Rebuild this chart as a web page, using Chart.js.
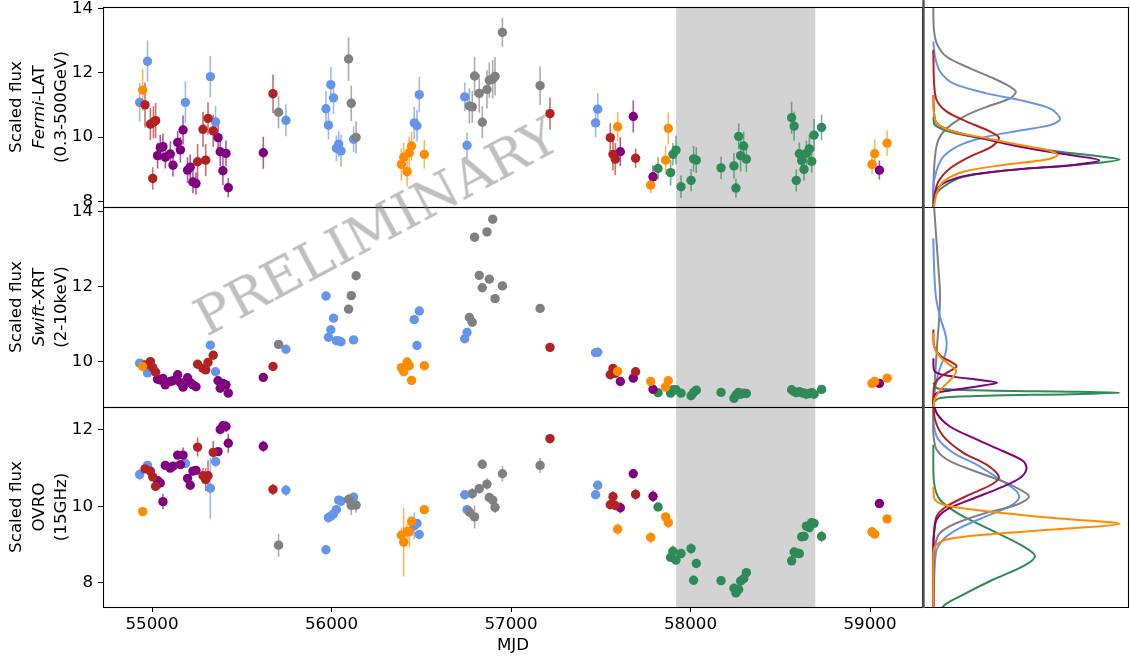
<!DOCTYPE html>
<html><head><meta charset="utf-8">
<script src="https://cdn.jsdelivr.net/npm/chart.js@4.4.0/dist/chart.umd.min.js"></script>
<style>
html,body{margin:0;padding:0;background:#fff;}
#wrap{position:relative;width:1130px;height:661px;overflow:hidden;font-family:"DejaVu Sans",sans-serif;background:#fff;}
canvas{position:absolute;left:0;top:0;}
.ylab{position:absolute;width:240px;text-align:center;font-size:16.7px;line-height:22.5px;transform:translate(-50%,-50%) rotate(-90deg);color:#000;white-space:nowrap;font-family:"DejaVu Sans",sans-serif;}
#wm{position:absolute;left:376px;top:226px;transform:translate(-50%,-50%) rotate(-28deg);font-family:"DejaVu Serif",serif;font-size:53px;color:rgba(128,128,128,0.5);white-space:nowrap;pointer-events:none;}
</style></head>
<body><div id="wrap">
<canvas id="m1" width="1130" height="661"></canvas>
<canvas id="m2" width="1130" height="661"></canvas>
<canvas id="m3" width="1130" height="661"></canvas>
<canvas id="s1" width="1130" height="661"></canvas>
<canvas id="s2" width="1130" height="661"></canvas>
<canvas id="s3" width="1130" height="661"></canvas>
<div class="ylab" style="left:38px;top:107px">Scaled flux<br><i>Fermi</i>-LAT<br>(0.3-500GeV)</div>
<div class="ylab" style="left:38px;top:307px">Scaled flux<br><i>Swift</i>-XRT<br>(2-10keV)</div>
<div class="ylab" style="left:38px;top:507px">Scaled flux<br>OVRO<br>(15GHz)</div>
<div id="wm">PRELIMINARY</div>
</div>
<script>
// ---------------- data ----------------
const xTicks = [55000, 56000, 57000, 58000, 59000];
const fermiTicks = [8, 10, 12, 14];
const swiftTicks = [10, 12, 14];
const ovroTicks = [8, 10, 12];
const bandStart = 57920, bandEnd = 58695;

const blueMJD = [54931, 54975, 55186, 55325, 55354, 55746, 55969, 55983, 55996, 56011, 56027, 56040, 56053, 56123, 56461, 56476, 56489, 56742, 56755, 57471, 57483];
const blueFermi = [11.08, 12.36, 11.08, 11.88, 10.47, 10.52, 10.88, 10.37, 11.63, 11.22, 9.65, 9.78, 9.57, 9.93, 10.44, 10.35, 11.32, 11.25, 9.74, 10.44, 10.87];
const blueFermiErr = [0.6, 0.65, 0.65, 0.65, 0.5, 0.5, 0.55, 0.45, 0.55, 0.5, 0.4, 0.4, 0.5, 0.4, 0.5, 0.5, 0.55, 0.45, 0.4, 0.45, 0.5];
const blueSwift = [9.96, 9.70, 9.46, 10.44, 9.73, 10.33, 11.75, 10.65, 10.85, 11.16, 10.56, 10.55, 10.53, 10.58, 11.12, 10.43, 11.35, 10.61, 10.78, 10.24, 10.25];
const blueOvro = [10.83, 11.07, 11.12, 10.47, 11.17, 10.42, 8.86, 9.70, 9.74, 9.80, 9.91, 10.16, 10.13, 10.24, 9.49, 9.55, 9.26, 10.30, 9.91, 10.30, 10.55];
const blueOvroErr = [0.15, 0.1, 0.1, 0.8, 0.15, 0.15, 0.1, 0.12, 0.1, 0.1, 0.1, 0.12, 0.1, 0.12, 0.35, 0.1, 0.1, 0.12, 0.1, 0.1, 0.12];

const grayMJD = [55705, 56095, 56110, 56137, 56768, 56784, 56797, 56823, 56840, 56866, 56879, 56898, 56911, 56952, 57162];
const grayFermi = [10.77, 12.43, 11.05, 9.99, 10.97, 10.94, 11.90, 11.36, 10.46, 11.48, 11.77, 11.80, 11.89, 13.26, 11.60];
const grayFermiErr = [0.5, 0.68, 0.55, 0.5, 0.55, 0.5, 0.6, 0.6, 0.5, 0.6, 0.55, 0.6, 0.6, 0.45, 0.6];
const graySwift = [10.46, 11.40, 11.76, 12.29, 11.18, 11.05, 13.32, 12.30, 11.97, 13.46, 12.20, 13.80, 11.68, 12.02, 11.42];
const grayOvro = [8.98, 10.18, 10.02, 10.03, 9.85, 10.33, 9.72, 10.46, 11.10, 10.58, 10.23, 10.16, 9.97, 10.85, 11.07];
const grayOvroErr = [0.3, 0.15, 0.25, 0.2, 0.15, 0.15, 0.3, 0.12, 0.12, 0.15, 0.1, 0.15, 0.15, 0.2, 0.2];

const orangeMJD = [54948, 56389, 56402, 56421, 56433, 56446, 56517, 57594, 57778, 57861, 57876, 59011, 59026, 59095];
const orangeFermi = [11.46, 9.15, 9.37, 8.92, 9.51, 9.72, 9.46, 10.32, 8.50, 9.28, 10.27, 9.15, 9.48, 9.81];
const orangeFermiErr = [0.65, 0.5, 0.45, 0.45, 0.5, 0.45, 0.45, 0.45, 0.25, 0.45, 0.5, 0.3, 0.45, 0.4];
const orangeSwift = [9.87, 9.84, 9.73, 9.99, 9.89, 9.50, 9.89, 9.74, 9.47, 9.32, 9.49, 9.42, 9.47, 9.56];
const orangeOvro = [9.86, 9.24, 9.06, 9.34, 9.33, 9.60, 9.91, 9.40, 9.18, 9.72, 9.57, 9.33, 9.27, 9.67];
const orangeOvroErr = [0.05, 0.2, 0.9, 0.2, 0.4, 0.15, 0.1, 0.15, 0.15, 0.1, 0.15, 0.1, 0.1, 0.05];

const redMJD = [54961, 54991, 55004, 55008, 55020, 55254, 55284, 55299, 55312, 55341, 55674, 57217, 57553, 57568, 57581, 57694];
const redFermi = [11.0, 10.40, 8.71, 10.46, 10.51, 9.23, 10.24, 9.28, 10.58, 10.19, 11.35, 10.73, 9.98, 9.46, 9.31, 9.34];
const redFermiErr = [0.7, 0.5, 0.35, 0.5, 0.55, 0.55, 0.55, 0.5, 0.5, 0.5, 0.6, 0.5, 0.45, 0.5, 0.5, 0.3];
const redSwift = [9.91, 10.0, 9.84, null, 9.72, 9.93, 9.82, 9.78, 9.98, 10.17, 9.87, 10.38, 9.65, 9.82, 9.69, 9.73];
const redOvro = [10.98, 10.92, 10.77, null, 10.52, 11.55, 10.80, 10.70, 10.80, 11.41, 10.44, 11.77, 10.04, 10.25, 10.02, 10.31];
const redOvroErr = [0.1, 0.1, 0.1, 0, 0.1, 0.25, 0.2, 0.3, 0.4, 0.3, 0.15, 0.05, 0.1, 0.15, 0.12, 0.15];

const purpleMJD = [55031, 55046, 55061, 55074, 55102, 55117, 55143, 55158, 55173, 55198, 55213, 55228, 55245, 55368, 55380, 55395, 55412, 55425, 55620, 57609, 57681, 57791, 59052];
const purpleFermi = [9.42, 9.67, 9.70, 9.37, 9.47, 9.12, 9.83, 9.60, 10.22, 8.97, 9.06, 8.60, 8.55, 9.98, 9.54, 8.95, 9.49, 8.42, 9.51, 9.54, 10.64, 8.76, 8.97];
const purpleFermiErr = [0.4, 0.4, 0.4, 0.35, 0.4, 0.35, 0.35, 0.4, 0.45, 0.4, 0.4, 0.35, 0.35, 0.45, 0.45, 0.45, 0.4, 0.3, 0.5, 0.45, 0.5, 0.35, 0.3];
const purpleSwift = [9.53, 9.51, 9.55, 9.38, 9.47, 9.49, 9.65, 9.44, 9.32, 9.57, 9.44, 9.38, 9.33, 9.49, 9.29, 9.42, 9.38, 9.16, 9.58, 9.47, 9.56, 9.26, 9.42];
const purpleOvro = [10.67, 10.61, 10.12, 11.07, 11.00, 11.05, 11.34, 11.09, 11.34, 10.73, 10.55, 10.92, 10.94, 11.43, 12.01, 12.11, 12.09, 11.65, 11.57, 9.96, 10.85, 10.26, 10.07];
const purpleOvroErr = [0.1, 0.1, 0.2, 0.1, 0.1, 0.1, 0.1, 0.1, 0.2, 0.1, 0.1, 0.1, 0.1, 0.1, 0.1, 0.1, 0.15, 0.25, 0.15, 0.15, 0.1, 0.15, 0.05];

const greenMJD = [57819, 57889, 57902, 57919, 57947, 58003, 58017, 58032, 58170, 58242, 58253, 58268, 58279, 58296, 58311, 58563, 58577, 58589, 58606, 58619, 58632, 58645, 58662, 58675, 58688, 58730];
const greenFermi = [9.02, 8.89, 9.46, 9.59, 8.45, 8.65, 9.32, 9.28, 9.04, 9.10, 8.41, 10.02, 9.42, 9.72, 9.31, 10.60, 10.34, 8.65, 9.48, 9.27, 8.99, 9.49, 9.63, 9.24, 10.06, 10.30];
const greenFermiErr = [0.35, 0.4, 0.35, 0.45, 0.35, 0.35, 0.4, 0.4, 0.35, 0.4, 0.3, 0.4, 0.5, 0.45, 0.4, 0.5, 0.45, 0.35, 0.35, 0.3, 0.35, 0.4, 0.45, 0.35, 0.5, 0.4];
const greenSwift = [9.17, 9.16, 9.25, 9.25, 9.16, 9.09, 9.18, 9.24, 9.18, 9.02, 9.11, 9.18, 9.13, 9.16, 9.15, 9.25, 9.20, 9.17, 9.20, 9.17, 9.16, 9.13, 9.15, 9.17, 9.13, 9.26];
const greenOvro = [9.98, 8.66, 8.82, 8.59, 8.76, 8.89, 8.06, 8.50, 8.05, 7.85, 7.73, 7.82, 8.04, 8.10, 8.26, 8.57, 8.80, 8.77, 8.76, 9.20, 9.21, 9.48, 9.44, 9.57, 9.55, 9.21];
const greenOvroErr = [0.1, 0.1, 0.15, 0.1, 0.1, 0.15, 0.12, 0.1, 0.05, 0.05, 0.05, 0.08, 0.1, 0.1, 0.1, 0.08, 0.1, 0.1, 0.1, 0.1, 0.1, 0.1, 0.1, 0.1, 0.1, 0.15];

// distribution curves: [density, scaled flux]
const curveFermiGray = [[0,14.3],[0.002,13.44],[0.018,12.92],[0.072,12.50],[0.197,12.14],[0.322,11.83],[0.411,11.57],[0.443,11.41],[0.411,11.20],[0.286,10.94],[0.161,10.63],[0.072,10.27],[0.027,9.91],[0.009,9.39],[0,8.45],[0,7.7]];
const curveFermiBlue = [[0,12.97],[0.009,12.50],[0.036,12.04],[0.107,11.67],[0.286,11.36],[0.465,11.15],[0.626,10.89],[0.680,10.56],[0.626,10.37],[0.465,10.20],[0.286,10.01],[0.143,9.75],[0.054,9.39],[0.018,8.97],[0,8.45],[0,7.7]];
const curveFermiRed = [[0,12.71],[0.004,11.67],[0.018,11.15],[0.072,10.79],[0.179,10.48],[0.286,10.22],[0.352,9.98],[0.313,9.70],[0.197,9.39],[0.089,9.02],[0.027,8.61],[0.004,8.14],[0,7.7]];
const curveFermiOrange = [[0,11.31],[0.004,10.74],[0.018,10.43],[0.107,10.17],[0.286,9.96],[0.465,9.75],[0.608,9.60],[0.667,9.44],[0.608,9.30],[0.376,9.13],[0.161,8.92],[0.054,8.61],[0.018,8.25],[0,7.7]];
const curveFermiPurple = [[0,11.31],[0.004,10.74],[0.018,10.43],[0.107,10.17],[0.286,9.93],[0.393,9.78],[0.554,9.60],[0.733,9.44],[0.891,9.28],[0.733,9.11],[0.465,9.00],[0.197,8.82],[0.072,8.61],[0.018,8.35],[0,7.7]];
const curveFermiGreen = [[0,10.63],[0.009,10.37],[0.107,10.13],[0.286,9.93],[0.465,9.73],[0.68,9.54],[0.876,9.41],[1.0,9.30],[0.876,9.19],[0.644,9.08],[0.376,8.95],[0.161,8.76],[0.054,8.45],[0.009,8.14],[0,7.7]];

const curveSwiftGray = [[0.002,14.3],[0.014,13.42],[0.027,12.53],[0.036,11.82],[0.032,11.2],[0.021,10.49],[0.013,9.87],[0.004,9.16],[0,8.7]];
const curveSwiftBlue = [[0,13.29],[0.004,12.53],[0.014,11.73],[0.036,11.2],[0.063,10.76],[0.072,10.49],[0.063,10.18],[0.039,9.87],[0.018,9.51],[0.004,9.07],[0,8.7]];
const curveSwiftRed = [[0,10.86],[0.005,10.4],[0.04,10.15],[0.1,9.98],[0.125,9.88],[0.1,9.78],[0.04,9.6],[0.008,9.4],[0,9.1],[0,8.7]];
const curveSwiftOrange = [[0,10.76],[0.004,10.4],[0.036,10.13],[0.089,9.91],[0.122,9.76],[0.107,9.6],[0.072,9.42],[0.036,9.24],[0.009,9.02],[0,8.8],[0,8.7]];
const curveSwiftPurple = [[0,10.09],[0.009,9.73],[0.107,9.60],[0.25,9.51],[0.343,9.44],[0.25,9.35],[0.107,9.24],[0.018,9.16],[0,8.98],[0,8.7]];
const curveSwiftGreen = [[0,9.44],[0.018,9.29],[0.286,9.23],[0.733,9.20],[1.0,9.17],[0.733,9.13],[0.286,9.09],[0.036,9.03],[0,8.89],[0,8.7]];

const curveOvroPurple = [[0,12.79],[0.018,12.44],[0.089,12.09],[0.232,11.75],[0.376,11.44],[0.483,11.18],[0.50,10.98],[0.465,10.74],[0.358,10.48],[0.197,10.17],[0.072,9.91],[0.018,9.65],[0.004,9.30],[0,8.87],[0,7.3]];
const curveOvroRed = [[0,12.79],[0.009,12.27],[0.054,11.83],[0.161,11.40],[0.286,11.09],[0.352,10.77],[0.313,10.57],[0.197,10.31],[0.072,10.0],[0.018,9.74],[0.004,9.30],[0,8.87],[0,7.3]];
const curveOvroGray = [[0,12.6],[0,11.92],[0.018,11.48],[0.089,11.18],[0.25,10.87],[0.411,10.57],[0.513,10.26],[0.447,10.04],[0.286,9.83],[0.125,9.56],[0.036,9.30],[0.009,8.95],[0,8.08],[0,7.3]];
const curveOvroBlue = [[0,12.79],[0.004,12.09],[0.027,11.75],[0.107,11.40],[0.232,11.09],[0.358,10.70],[0.447,10.39],[0.46,10.22],[0.411,10.0],[0.286,9.74],[0.143,9.43],[0.054,9.13],[0.014,8.78],[0,7.3]];
const curveOvroOrange = [[0,10.51],[0.009,10.17],[0.072,10.02],[0.286,9.87],[0.644,9.69],[1.0,9.54],[0.644,9.39],[0.286,9.26],[0.072,9.13],[0.009,8.95],[0,8.60],[0,7.3]];
const curveOvroGreen = [[0,11.61],[0.004,10.61],[0.036,10.17],[0.143,9.78],[0.322,9.35],[0.483,8.95],[0.546,8.69],[0.483,8.43],[0.322,8.08],[0.143,7.64],[0.054,7.38],[0,6.86]];

// ---------------- styling / layout ----------------
const COL = {blue:'#6495ED', gray:'#808080', orange:'#FF8C00', red:'#B22222', purple:'#800080', green:'#2E8B57'};
const ERRCOL = {blue:'rgba(100,149,237,0.65)', gray:'rgba(128,128,128,0.65)', orange:'rgba(255,140,0,0.65)', red:'rgba(178,34,34,0.65)', purple:'rgba(128,0,128,0.65)', green:'rgba(46,139,87,0.65)'};
const W = 1130, H = 661;
const PANELS = [{top:7,bottom:207},{top:207,bottom:407},{top:407,bottom:607}];
const MAIN_LEFT = 103, MAIN_RIGHT = 923, SIDE_LEFT = 924, SIDE_RIGHT = 1129;
const X_MIN = 54727, X_MAX = 59295;
const LIMS = [[7.82, 14.05], [8.79, 14.125], [7.36, 12.60]];
const FONT = {family: 'DejaVu Sans', size: 16.7};

// first entry drawn on top
const SERIES = [
  {c:'orange', mjd:orangeMJD, fermi:orangeFermi, fermiErr:orangeFermiErr, swift:orangeSwift, ovro:orangeOvro, ovroErr:orangeOvroErr},
  {c:'red', mjd:redMJD, fermi:redFermi, fermiErr:redFermiErr, swift:redSwift, ovro:redOvro, ovroErr:redOvroErr},
  {c:'purple', mjd:purpleMJD, fermi:purpleFermi, fermiErr:purpleFermiErr, swift:purpleSwift, ovro:purpleOvro, ovroErr:purpleOvroErr},
  {c:'green', mjd:greenMJD, fermi:greenFermi, fermiErr:greenFermiErr, swift:greenSwift, ovro:greenOvro, ovroErr:greenOvroErr},
  {c:'gray', mjd:grayMJD, fermi:grayFermi, fermiErr:grayFermiErr, swift:graySwift, ovro:grayOvro, ovroErr:grayOvroErr},
  {c:'blue', mjd:blueMJD, fermi:blueFermi, fermiErr:blueFermiErr, swift:blueSwift, ovro:blueOvro, ovroErr:blueOvroErr}
];

const mainPlugin = {
  id: 'mainDecor',
  beforeDatasetsDraw(chart) {
    const {ctx, chartArea: a, scales: {x, y}} = chart;
    ctx.save();
    ctx.beginPath(); ctx.rect(a.left, a.top, a.width, a.height); ctx.clip();
    const x0 = x.getPixelForValue(bandStart), x1 = x.getPixelForValue(bandEnd);
    ctx.fillStyle = '#d3d3d3';
    ctx.fillRect(x0, a.top, x1 - x0, a.height);
    ctx.lineWidth = 1.6;
    for (let di = chart.data.datasets.length - 1; di >= 0; di--) {
      const ds = chart.data.datasets[di];
      const meta = chart.getDatasetMeta(di);
      ctx.strokeStyle = ds.errColor;
      meta.data.forEach((pt, i) => {
        const r = ds.data[i];
        if (!r || !r.e) return;
        ctx.beginPath();
        ctx.moveTo(pt.x, y.getPixelForValue(r.y - r.e));
        ctx.lineTo(pt.x, y.getPixelForValue(r.y + r.e));
        ctx.stroke();
      });
    }
    ctx.restore();
  },
  afterDraw(chart) {
    const {ctx, chartArea: a} = chart;
    ctx.save();
    ctx.strokeStyle = '#000'; ctx.lineWidth = 1.1;
    ctx.strokeRect(a.left + 0.5, a.top + 0.5, a.width - 1, a.height);
    ctx.restore();
  }
};

function buildMain(id, pi, key, errKey, ticks, showX) {
  const datasets = SERIES.map(s => {
    const data = [];
    s.mjd.forEach((m, i) => {
      const v = s[key][i];
      if (v === null || v === undefined) return;
      data.push({x: m, y: v, e: errKey ? s[errKey][i] : 0});
    });
    return {data, backgroundColor: COL[s.c], borderColor: COL[s.c], borderWidth: 0,
      pointRadius: 4.7, pointHoverRadius: 4.7, pointBorderWidth: 0, errColor: ERRCOL[s.c], showLine: false};
  });
  const p = PANELS[pi];
  new Chart(document.getElementById(id), {
    type: 'scatter',
    data: {datasets},
    options: {
      responsive: false, animation: false, events: [],
      layout: {padding: {left: 0, right: W - MAIN_RIGHT, top: p.top, bottom: H - p.bottom - (showX ? 54 : 0)}},
      plugins: {legend: {display: false}, tooltip: {enabled: false}},
      scales: {
        x: {
          type: 'linear', min: X_MIN, max: X_MAX, display: showX,
          afterBuildTicks: s => { s.ticks = xTicks.map(v => ({value: v})); },
          afterFit: s => { s.height = showX ? 54 : 0; s.paddingLeft = 0; s.paddingRight = 0; },
          ticks: {font: FONT, color: '#000', padding: 3, maxRotation: 0, autoSkip: false, callback: v => String(v)},
          grid: {display: true, drawOnChartArea: false, drawTicks: true, tickLength: 5, color: '#000'},
          border: {display: false},
          title: {display: true, text: 'MJD', font: FONT, color: '#000', padding: {top: 0, bottom: 5}}
        },
        y: {
          type: 'linear', position: 'left', min: LIMS[pi][0], max: LIMS[pi][1],
          afterBuildTicks: s => { s.ticks = ticks.map(v => ({value: v})); },
          afterFit: s => { s.width = MAIN_LEFT; s.paddingTop = 0; s.paddingBottom = 0; },
          ticks: {font: FONT, color: '#000', padding: 5, autoSkip: false, callback: v => String(v)},
          grid: {display: true, drawOnChartArea: false, drawTicks: true, tickLength: 5, color: '#000'},
          border: {display: false}
        }
      }
    },
    plugins: [mainPlugin]
  });
}

const sidePlugin = {
  id: 'sideDecor',
  afterDraw(chart, args, opts) {
    const {ctx, chartArea: a} = chart;
    ctx.save();
    ctx.strokeStyle = '#000'; ctx.lineWidth = 1.1;
    ctx.beginPath();
    ctx.moveTo(a.left, a.top + 0.5); ctx.lineTo(a.right, a.top + 0.5);
    ctx.moveTo(a.left, a.bottom + 0.5); ctx.lineTo(a.right, a.bottom + 0.5);
    ctx.moveTo(a.right - 0.5, a.top); ctx.lineTo(a.right - 0.5, a.bottom);
    ctx.stroke();
    ctx.strokeStyle = '#555'; ctx.lineWidth = 2.4;
    ctx.beginPath();
    ctx.moveTo(SIDE_LEFT - 0.5, opts.first ? 0 : a.top);
    ctx.lineTo(SIDE_LEFT - 0.5, a.bottom + 1);
    ctx.stroke();
    ctx.restore();
  }
};

function buildSide(id, pi, curves) {
  const p = PANELS[pi];
  const datasets = curves.map(c => ({
    data: c.pts.map(q => ({x: q[0], y: q[1]})),
    borderColor: COL[c.c], backgroundColor: COL[c.c], borderWidth: 2,
    pointRadius: 0, showLine: true, tension: 0.3, fill: false
  }));
  new Chart(document.getElementById(id), {
    type: 'scatter',
    data: {datasets},
    options: {
      responsive: false, animation: false, events: [],
      layout: {padding: {left: SIDE_LEFT, right: W - SIDE_RIGHT, top: p.top, bottom: H - p.bottom}},
      plugins: {legend: {display: false}, tooltip: {enabled: false}, sideDecor: {first: pi === 0}},
      scales: {
        x: {type: 'linear', min: -0.05, max: 1.05, display: false},
        y: {type: 'linear', min: LIMS[pi][0], max: LIMS[pi][1], display: false}
      }
    },
    plugins: [sidePlugin]
  });
}

buildMain('m1', 0, 'fermi', 'fermiErr', fermiTicks, false);
buildMain('m2', 1, 'swift', null, swiftTicks, false);
buildMain('m3', 2, 'ovro', 'ovroErr', ovroTicks, true);

buildSide('s1', 0, [
  {c:'orange', pts: curveFermiOrange}, {c:'purple', pts: curveFermiPurple}, {c:'green', pts: curveFermiGreen},
  {c:'red', pts: curveFermiRed}, {c:'blue', pts: curveFermiBlue}, {c:'gray', pts: curveFermiGray}
]);
buildSide('s2', 1, [
  {c:'orange', pts: curveSwiftOrange}, {c:'red', pts: curveSwiftRed}, {c:'purple', pts: curveSwiftPurple},
  {c:'green', pts: curveSwiftGreen}, {c:'blue', pts: curveSwiftBlue}, {c:'gray', pts: curveSwiftGray}
]);
buildSide('s3', 2, [
  {c:'orange', pts: curveOvroOrange}, {c:'purple', pts: curveOvroPurple}, {c:'red', pts: curveOvroRed},
  {c:'gray', pts: curveOvroGray}, {c:'blue', pts: curveOvroBlue}, {c:'green', pts: curveOvroGreen}
]);
</script>
</body></html>
